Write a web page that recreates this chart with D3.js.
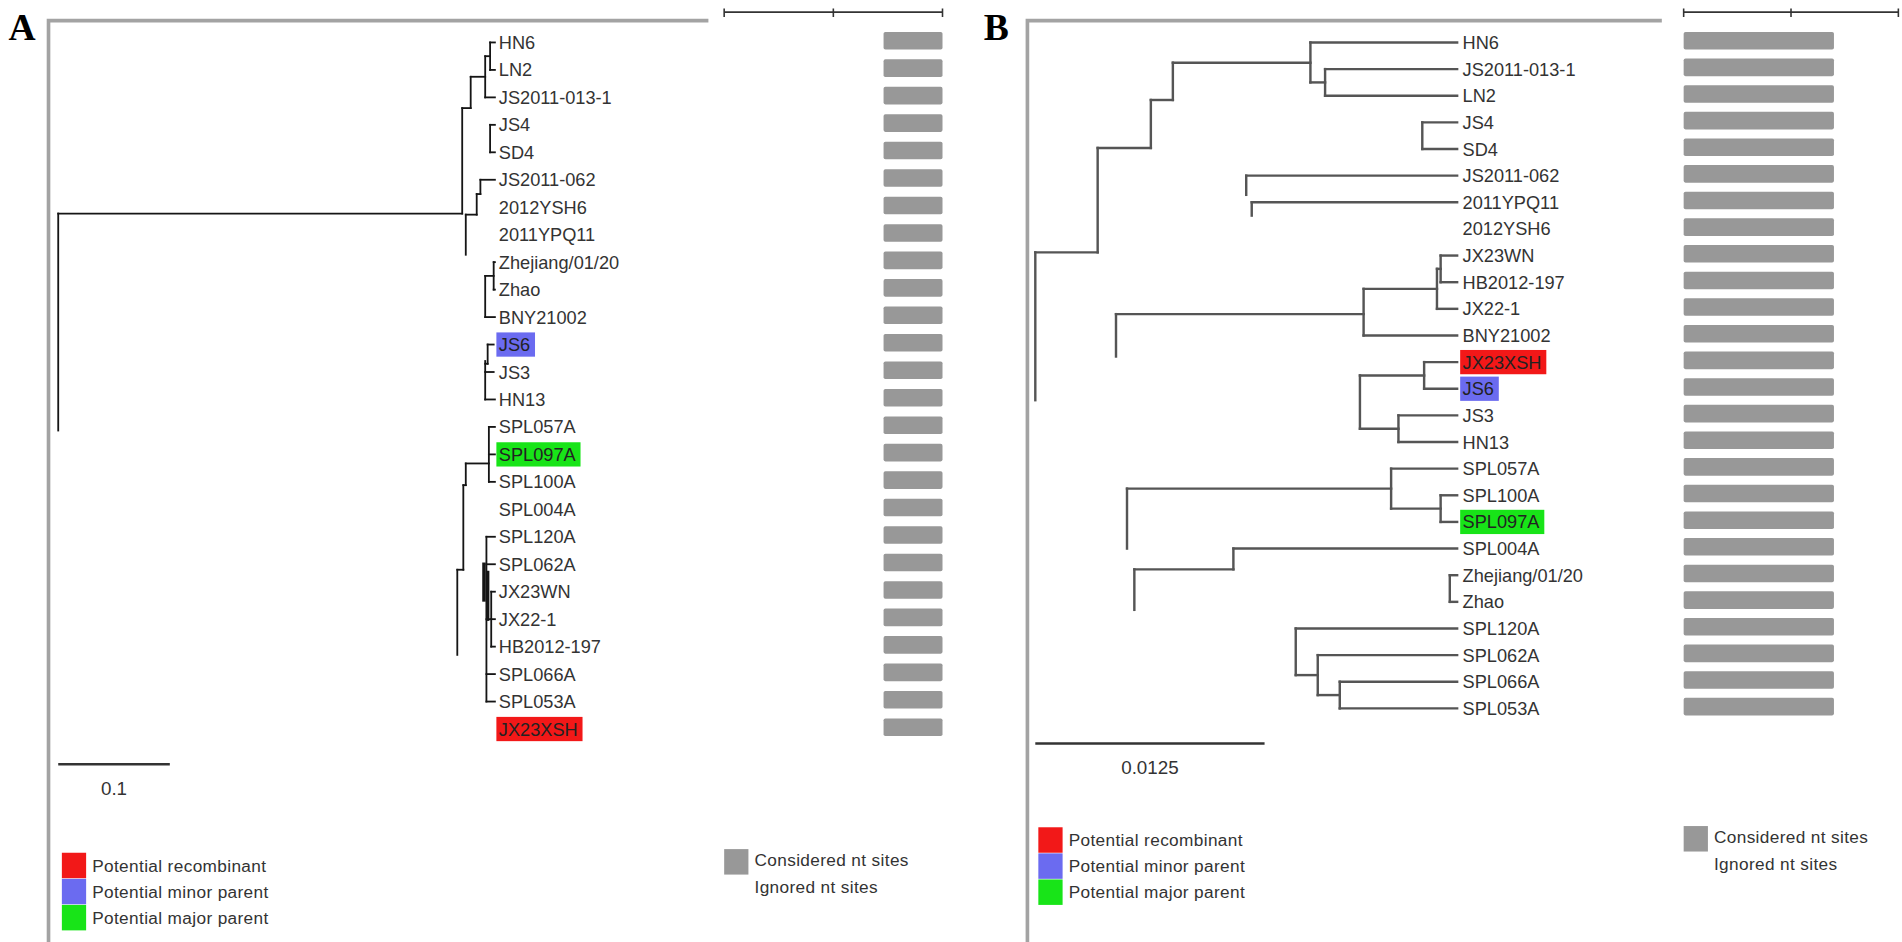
<!DOCTYPE html>
<html><head><meta charset="utf-8">
<script src="https://cdn.jsdelivr.net/npm/d3@7"></script>
<style>html,body{margin:0;padding:0;background:#fff;overflow:hidden;} svg{display:block;}</style>
</head><body><svg id="chart"></svg>
<script>
// ---------- data ----------
const leavesA = ["HN6","LN2","JS2011-013-1","JS4","SD4","JS2011-062","2012YSH6","2011YPQ11",
  "Zhejiang/01/20","Zhao","BNY21002","JS6","JS3","HN13","SPL057A","SPL097A","SPL100A","SPL004A",
  "SPL120A","SPL062A","JX23WN","JX22-1","HB2012-197","SPL066A","SPL053A","JX23XSH"];
const leavesB = ["HN6","JS2011-013-1","LN2","JS4","SD4","JS2011-062","2011YPQ11","2012YSH6",
  "JX23WN","HB2012-197","JX22-1","BNY21002","JX23XSH","JS6","JS3","HN13","SPL057A","SPL100A",
  "SPL097A","SPL004A","Zhejiang/01/20","Zhao","SPL120A","SPL062A","SPL066A","SPL053A"];
const roleNames = ["JX23XSH","JS6","SPL097A"];
const roleLabels = ["Potential recombinant","Potential minor parent","Potential major parent"];
const roleColors = ["#f21818","#6b6bf0","#18e418"];
const siteLabels = ["Considered nt sites","Ignored nt sites"];
const scaleValueA = 0.1, scaleValueB = 0.0125;
const scaleTextA = "0.1", scaleTextB = "0.0125";
const tipDepthA = 0.391, tipDepthB = 0.0230;
const siteRangeA = [0.73, 1.0], siteRangeB = [0.0, 0.70];
// horizontal branches: [row, depthFrom, depthTo]
const hBranchesA = [
  [0,.3870,.3913],[1,.3870,.3913],[0.5,.3826,.3870],[2,.3826,.3913],[1.25,.3696,.3826],
  [2.39,.3620,.3696],[6.23,0,.3620],[3,.3870,.3913],[4,.3870,.3913],[5,.3783,.3913],
  [5.52,.3750,.3783],[6.27,.3652,.3750],[8,.3902,.3913],[9,.3902,.3913],[8.5,.3826,.3902],
  [10,.3826,.3913],[11,.3848,.3902],[11.7,.3826,.3848],[12,.3826,.3902],[13,.3826,.3913],
  [14,.3859,.3913],[15,.3859,.3913],[16,.3859,.3913],[15.33,.3652,.3859],[16.12,.3630,.3652],
  [19.2,.3576,.3630],[18,.3837,.3913],[19,.3837,.3913],[20,.3880,.3913],[21,.3880,.3913],
  [22,.3880,.3913],[21,.3837,.3880],[23,.3837,.3913],[24,.3837,.3913]];
// vertical branches: [depth, rowFrom, rowTo]
const vBranchesA = [
  [0,6.23,14.13],[.3870,0,1],[.3826,0.5,2],[.3696,1.25,2.39],[.3620,2.39,6.23],[.3870,3,4],
  [.3783,5,5.52],[.3750,5.52,6.27],[.3652,6.27,7.73],[.3902,8,9],[.3826,8.5,10],[.3848,11,11.7],
  [.3826,11.6,13],[.3859,14,16],[.3652,15.33,16.12],[.3630,16.12,19.2],[.3576,19.2,22.3],
  [.3837,18,24],[.3880,20,22]];
const thickBranchesA = [[.3815,19,20.3],[.3848,19.3,21]];
const hBranchesB = [
  [0,.0150,.0230],[1.5,.0150,.0158],[1,.0158,.0230],[2,.0158,.0230],[0.76,.0075,.0150],
  [2.16,.0063,.0075],[3.96,.0034,.0063],[7.88,0,.0034],[3,.0211,.0230],[4,.0211,.0230],
  [5,.0115,.0230],[6,.0118,.0230],[8,.0221,.0230],[9,.0221,.0230],[8.5,.0219,.0221],
  [10,.0219,.0230],[9.25,.0179,.0219],[11,.0179,.0230],[10.2,.0044,.0179],[12,.0212,.0230],
  [13,.0212,.0230],[12.5,.0177,.0212],[14.5,.0177,.0198],[14,.0198,.0230],[15,.0198,.0230],
  [16,.0194,.0230],[17.5,.0194,.0221],[17,.0221,.0230],[18,.0221,.0230],[16.75,.0050,.0194],
  [19,.0108,.0230],[19.78,.0054,.0108],[20,.0226,.0230],[21,.0226,.0230],[22,.0142,.0230],
  [23.75,.0142,.0154],[23,.0154,.0230],[24.5,.0154,.0166],[24,.0166,.0230],[25,.0166,.0230]];
const vBranchesB = [
  [0,7.88,13.43],[.0034,3.96,7.88],[.0063,2.16,3.96],[.0075,0.76,2.16],[.0150,0,1.5],
  [.0158,1,2],[.0211,3,4],[.0115,5,5.72],[.0118,6,6.5],[.0221,8,9],[.0219,8.5,10],
  [.0179,9.25,11],[.0044,10.2,11.79],[.0212,12,13],[.0177,12.5,14.5],[.0198,14,15],
  [.0194,16,17.5],[.0221,17,18],[.0050,16.75,19],[.0108,19,19.78],[.0054,19.78,21.3],
  [.0226,20,21],[.0142,22,23.75],[.0154,23,24.5],[.0166,24,25]];

// ---------- drawing ----------
const W = 1568, H = 942 * 1568 / 1902;
const svg = d3.select("#chart").attr("width", 1902).attr("height", 942)
  .attr("viewBox", `0 0 ${W} ${H}`);
const FONT = "'Liberation Sans', Arial, sans-serif";
const TXT = "#333";

function drawPanel(p) {
  const g = svg.append("g");
  const x = d3.scaleLinear().domain([0, p.scaleValue]).range(p.xRange);
  const y = d3.scaleLinear().domain([0, p.leaves.length - 1]).range(p.yRange);
  const site = d3.scaleLinear().domain([0, 1]).range(p.siteX);

  // frame
  g.append("path")
    .attr("d", `M${p.frame[0]},${H} V${p.frame[1]} H${p.frame[2]}`)
    .attr("fill", "none").attr("stroke", "#a3a3a3").attr("stroke-width", 3);
  // panel letter
  g.append("text").attr("x", p.letterX).attr("y", 33).text(p.letter)
    .attr("font-family", "'Liberation Serif','Times New Roman',serif")
    .attr("font-weight", "bold").attr("font-size", 31).attr("fill", "#000");

  // tree
  const lines = g.append("g").attr("stroke", p.lineColor).attr("stroke-width", p.lineWidth)
    .attr("stroke-linecap", "square").attr("fill", "none");
  lines.selectAll("line.h").data(p.hBranches).join("line").attr("class", "h")
    .attr("x1", d => x(d[1])).attr("x2", d => x(d[2]))
    .attr("y1", d => y(d[0])).attr("y2", d => y(d[0]));
  lines.selectAll("line.v").data(p.vBranches).join("line").attr("class", "v")
    .attr("x1", d => x(d[0])).attr("x2", d => x(d[0]))
    .attr("y1", d => y(d[1])).attr("y2", d => y(d[2]));
  lines.selectAll("line.t").data(p.thick || []).join("line").attr("class", "t")
    .attr("stroke-width", p.lineWidth * 1.9)
    .attr("x1", d => x(d[0])).attr("x2", d => x(d[0]))
    .attr("y1", d => y(d[1])).attr("y2", d => y(d[2]));

  // labels
  const lx = x(p.tipDepth) + p.labelGap;
  const lab = g.selectAll("g.leaf").data(p.leaves).join("g").attr("class", "leaf");
  lab.each(function (name, i) {
    const sel = d3.select(this);
    const role = roleNames.indexOf(name);
    const rect = role >= 0 ? sel.append("rect") : null;
    const t = sel.append("text").attr("x", lx).attr("y", y(i)).attr("dy", "0.36em")
      .attr("font-family", FONT).attr("font-size", 15).attr("fill", TXT).text(name);
    if (rect) {
      const w = t.node().getComputedTextLength();
      rect.attr("x", lx - 2).attr("y", y(i) - 10).attr("width", w + 6).attr("height", 20)
        .attr("fill", roleColors[role]);
      t.attr("fill", "#222");
    }
  });

  // site bars
  g.selectAll("rect.bar").data(p.leaves).join("rect").attr("class", "bar")
    .attr("x", site(p.siteRange[0])).attr("width", site(p.siteRange[1]) - site(p.siteRange[0]))
    .attr("y", (d, i) => y(i) - 8.7).attr("height", 14.5).attr("rx", 1.5)
    .attr("fill", "#989898");

  // top sequence bar
  const sb = g.append("g").attr("stroke", "#333").attr("stroke-width", 1.3);
  sb.append("line").attr("x1", site(0)).attr("x2", site(1)).attr("y1", p.topY).attr("y2", p.topY);
  sb.selectAll("line.tk").data([0, 0.5, 1]).join("line").attr("class", "tk")
    .attr("x1", d => site(d)).attr("x2", d => site(d))
    .attr("y1", p.topY - 3).attr("y2", p.topY + 4);

  // scale bar
  g.append("line").attr("x1", x(0)).attr("x2", x(p.scaleValue))
    .attr("y1", p.scaleY).attr("y2", p.scaleY).attr("stroke", "#333").attr("stroke-width", 2);
  g.append("text").attr("x", (x(0) + x(p.scaleValue)) / 2).attr("y", p.scaleY + 25)
    .attr("text-anchor", "middle").attr("font-family", FONT).attr("font-size", 15.5)
    .attr("fill", TXT).text(p.scaleText);

  // role legend
  const lg = g.append("g");
  roleLabels.forEach((r, i) => {
    lg.append("rect").attr("x", p.legendX).attr("y", p.legendY + i * 21.5)
      .attr("width", 20).attr("height", 21).attr("fill", roleColors[i]);
    lg.append("text").attr("x", p.legendX + 25).attr("y", p.legendY + i * 21.5 + 10.5)
      .attr("dy", "0.35em").attr("font-family", FONT).attr("font-size", 14.2)
      .attr("letter-spacing", 0.3).attr("fill", TXT).text(r);
  });
  // sites legend
  lg.append("rect").attr("x", site(0)).attr("y", p.siteLegendY).attr("width", 20)
    .attr("height", 21).attr("fill", "#989898");
  siteLabels.forEach((s, i) => {
    lg.append("text").attr("x", site(0) + 25).attr("y", p.siteLegendY + 9 + i * 22)
      .attr("dy", "0.35em").attr("font-family", FONT).attr("font-size", 14.2)
      .attr("letter-spacing", 0.3).attr("fill", TXT).text(s);
  });
}

drawPanel({
  letter: "A", letterX: 7, frame: [40, 17, 584],
  leaves: leavesA, hBranches: hBranchesA, vBranches: vBranchesA, thick: thickBranchesA,
  tipDepth: tipDepthA, scaleValue: scaleValueA, scaleText: scaleTextA,
  xRange: [48, 140], yRange: [35, 601], labelGap: 3.5,
  lineColor: "#151515", lineWidth: 1.5,
  siteX: [597, 777], siteRange: siteRangeA, topY: 10,
  scaleY: 630, legendX: 51, legendY: 703, siteLegendY: 700
});
drawPanel({
  letter: "B", letterX: 811, frame: [847, 17, 1370],
  leaves: leavesB, hBranches: hBranchesB, vBranches: vBranchesB,
  tipDepth: tipDepthB, scaleValue: scaleValueB, scaleText: scaleTextB,
  xRange: [853.5, 1042.5], yRange: [35, 584], labelGap: 4.5,
  lineColor: "#555", lineWidth: 2,
  siteX: [1388, 1565], siteRange: siteRangeB, topY: 10,
  scaleY: 613, legendX: 856, legendY: 682, siteLegendY: 681
});
</script></body></html>
